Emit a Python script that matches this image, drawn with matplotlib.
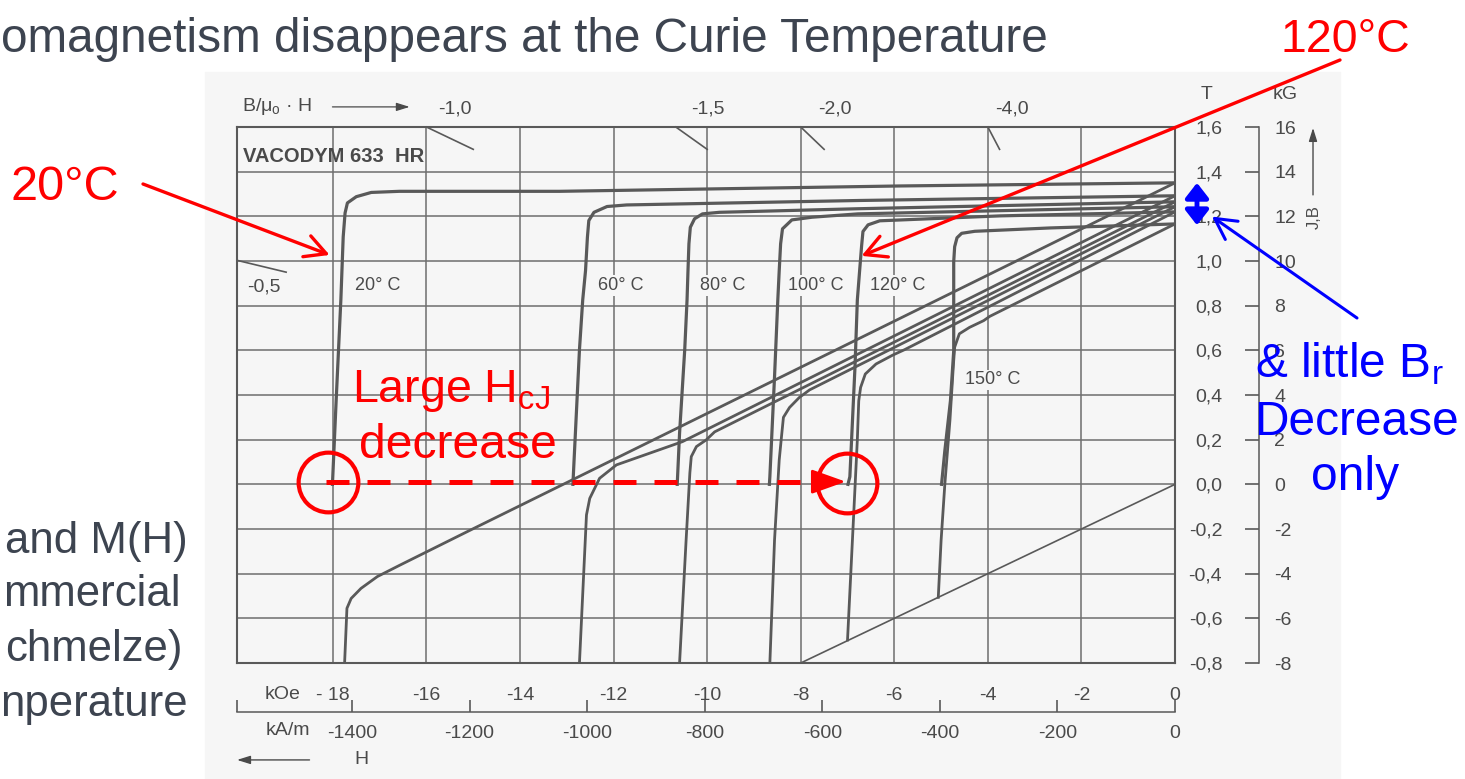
"""
VACODYM 633 HR : courbes de desaimantation J(H) et B(H) selon la temperature,
avec les annotations de la diapositive (HcJ qui chute, Br qui bouge peu).
"""
import matplotlib
matplotlib.use("Agg")
import matplotlib.pyplot as plt
from matplotlib.patches import Rectangle
from matplotlib.ticker import FixedLocator

plt.rcParams["font.family"] = ["Liberation Sans", "DejaVu Sans"]
plt.rcParams["mathtext.default"] = "regular"
plt.rcParams["axes.unicode_minus"] = False

W, HPX = 1465, 779

h_j20 = [0, -5.88, -13.16, -16.58, -17.18, -17.50, -17.69, -17.74, -17.78, -17.83, -17.93, -18.01]
j20 = [1.350, 1.336, 1.312, 1.312, 1.307, 1.288, 1.260, 1.215, 1.108, 0.826, 0.378, 0.0]
h_b20 = [0, -15.13, -16.56, -17.05, -17.40, -17.61, -17.70, -17.75]
b20 = [1.350, -0.212, -0.361, -0.413, -0.466, -0.511, -0.555, -0.800]

h_j60 = [0, -6.74, -11.72, -12.14, -12.42, -12.53, -12.56, -12.60, -12.66, -12.73, -12.87]
j60 = [1.292, 1.271, 1.251, 1.244, 1.218, 1.181, 1.106, 0.957, 0.826, 0.602, 0.0]
h_b60 = [0, -10.53, -11.94, -12.30, -12.51, -12.58, -12.73]
b60 = [1.292, 0.191, 0.087, 0.027, -0.063, -0.137, -0.800]

h_j80 = [0, -6.78, -9.74, -10.10, -10.27, -10.36, -10.39, -10.41, -10.43, -10.48, -10.59, -10.64]
j80 = [1.265, 1.234, 1.218, 1.211, 1.189, 1.151, 1.077, 0.957, 0.826, 0.602, 0.229, 0.0]
h_b80 = [0, -9.84, -10.02, -10.23, -10.34, -10.37, -10.45, -10.59]
b80 = [1.265, 0.235, 0.199, 0.169, 0.124, 0.051, -0.249, -0.800]

h_j100 = [0, -6.78, -7.76, -8.19, -8.39, -8.43, -8.46, -8.49, -8.56, -8.66, -8.67]
j100 = [1.243, 1.211, 1.196, 1.184, 1.144, 1.077, 0.957, 0.826, 0.482, 0.034, 0.0]
h_b100 = [0, -7.81, -8.03, -8.24, -8.37, -8.42, -8.46, -8.56, -8.66]
b100 = [1.243, 0.423, 0.389, 0.344, 0.300, 0.195, 0.109, -0.249, -0.800]

h_j120 = [0, -3.74, -6.31, -6.56, -6.67, -6.70, -6.74, -6.79, -6.84, -6.95, -6.99]
j120 = [1.220, 1.202, 1.180, 1.162, 1.132, 1.065, 0.960, 0.826, 0.527, 0.034, 0.0]
h_b120 = [0, -5.78, -6.03, -6.39, -6.62, -6.72, -6.76, -6.79, -6.86, -7.00]
b120 = [1.220, 0.603, 0.579, 0.539, 0.494, 0.434, 0.374, 0.200, -0.100, -0.697]

h_j150 = [0, -2.67, -4.28, -4.56, -4.66, -4.71, -4.73, -4.73, -4.80, -4.92, -4.99]
j150 = [1.166, 1.148, 1.133, 1.124, 1.104, 1.064, 0.997, 0.598, 0.374, 0.150, 0.0]
h_b150 = [0, -3.96, -4.09, -4.39, -4.61, -4.71, -4.74, -4.81, -4.92, -5.00, -5.06]
b150 = [1.166, 0.752, 0.733, 0.703, 0.674, 0.614, 0.524, 0.289, 0.0, -0.252, -0.506]

# droite J = 0 (B = mu0.H)
h_mu0 = [-8.0, 0.0]
b_mu0 = [-0.8, 0.0]

# amorces des droites de charge B/mu0.H
load_labels = ["-0,5", "-1,0", "-1,5", "-2,0", "-4,0"]
load_h = [(-20.05, -19.0), (-16.0, -15.0), (-10.67, -10.0), (-8.0, -7.5), (-4.0, -3.75)]
load_b = [(1.003, 0.95), (1.6, 1.5), (1.6, 1.5), (1.6, 1.5), (1.6, 1.5)]
load_label_pos = [(-19.47, 0.884), (-15.40, 1.681), (-9.99, 1.681), (-7.27, 1.681), (-3.49, 1.681)]

temp_labels = ["20° C", "60° C", "80° C", "100° C", "120° C", "150° C"]
temp_label_pos = [(-17.05, 0.889), (-11.85, 0.889), (-9.67, 0.889), (-7.68, 0.889), (-5.93, 0.889), (-3.89, 0.468)]

koe_ticks = [-18, -16, -14, -12, -10, -8, -6, -4, -2, 0]
koe_labels = ["- 18", "-16", "-14", "-12", "-10", "-8", "-6", "-4", "-2", "0"]
kam_ticks = [-1400, -1200, -1000, -800, -600, -400, -200, 0]
kam_labels = ["-1400", "-1200", "-1000", "-800", "-600", "-400", "-200", "0"]
t_ticks = [-0.8, -0.6, -0.4, -0.2, 0.0, 0.2, 0.4, 0.6, 0.8, 1.0, 1.2, 1.4, 1.6]
t_labels = ["-0,8", "-0,6", "-0,4", "-0,2", "0,0", "0,2", "0,4", "0,6", "0,8", "1,0", "1,2", "1,4", "1,6"]
kg_ticks = [-8, -6, -4, -2, 0, 2, 4, 6, 8, 10, 12, 14, 16]
kg_labels = ["-8", "-6", "-4", "-2", "0", "2", "4", "6", "8", "10", "12", "14", "16"]

# --- couleurs / tailles ---
INK = "#595959"
TXT = "#4a4a4a"
GRID = "#6e6e6e"
BG = "#f6f6f6"
SLIDE = "#3d4450"
RED = "#ff0000"
BLUE = "#0000ff"
FS = 14


def fxy(x, y):
    """pixel (origine en haut a gauche) -> fraction de figure"""
    return x / W, 1 - y / HPX


fig = plt.figure(figsize=(W / 100, HPX / 100), dpi=100)
fig.patches.append(Rectangle((205 / W, 0), (1340 - 205) / W, (HPX - 72) / HPX,
                             transform=fig.transFigure, color=BG, zorder=-10))

ax = fig.add_axes([237 / W, 1 - 663 / HPX, 938 / W, 536 / HPX])
ax.set_facecolor(BG)
ax.set_xlim(-20.05, 0)
ax.set_ylim(-0.8, 1.6)
for sp in ax.spines.values():
    sp.set_color(INK)
    sp.set_linewidth(1.5)

ax.set_xticks(koe_ticks)
ax.set_xticklabels(koe_labels)
ax.set_yticks(t_ticks)
ax.set_yticklabels(t_labels)
ax.yaxis.tick_right()
ax.tick_params(axis="x", length=0, pad=17, labelsize=FS, labelcolor=TXT)
ax.tick_params(axis="y", length=0, pad=34, labelsize=FS, labelcolor=TXT)
for lab in ax.get_yticklabels():
    lab.set_horizontalalignment("right")
ax.grid(True, color=GRID, linewidth=1.1)
ax.set_axisbelow(True)

# courbes
for h, v in [(h_j20, j20), (h_j60, j60), (h_j80, j80), (h_j100, j100), (h_j120, j120), (h_j150, j150)]:
    ax.plot(h, v, color=INK, linewidth=2.3, solid_joinstyle="round", zorder=3)
for h, v in [(h_b20, b20), (h_b60, b60), (h_b80, b80), (h_b100, b100), (h_b120, b120), (h_b150, b150)]:
    ax.plot(h, v, color=INK, linewidth=2.0, solid_joinstyle="round", zorder=3)
ax.plot(h_mu0, b_mu0, color=INK, linewidth=1.2, zorder=3)

for (h1, h2), (b1, b2) in zip(load_h, load_b):
    ax.plot([h1, h2], [b1, b2], color=INK, linewidth=1.2, clip_on=False)
for lab, (h, b) in zip(load_labels, load_label_pos):
    ax.text(h, b, lab, fontsize=FS, color=TXT, ha="center", va="center")

for lab, (h, b) in zip(temp_labels, temp_label_pos):
    ax.text(h, b, lab, fontsize=13, color=TXT, ha="center", va="center", zorder=4,
            bbox=dict(boxstyle="square,pad=0.1", fc=BG, ec="none"))

ax.text(-19.93, 1.468, "VACODYM 633  HR", fontsize=14.5, color=TXT, ha="left", va="center",
        fontweight="bold")
ax.text(-19.95, 1.69, "B/μ$_{o}$ · H", fontsize=FS, color=TXT, ha="left", va="center")
ax.annotate("", xy=(-16.36, 1.69), xytext=(-18.01, 1.69), annotation_clip=False,
            arrowprops=dict(arrowstyle="-|>,head_length=0.8,head_width=0.25", color=TXT, lw=0.9,
                            shrinkA=0, shrinkB=0))

# axe en kA/m sous le cadre
kam = ax.secondary_xaxis(-(712 - 663) / 536, functions=(lambda h: h * 79.577, lambda a: a / 79.577))
kam.set_xticks(kam_ticks)
kam.set_xticklabels(kam_labels)
kam.xaxis.set_minor_locator(FixedLocator([-20.05 * 79.577]))
kam.tick_params(which="both", direction="in", length=9, width=1.2, color=INK, pad=9,
                labelsize=FS, labelcolor=TXT)
kam.spines["bottom"].set_color(INK)
kam.spines["bottom"].set_linewidth(1.1)
ax.text(-19.08, -0.94, "kOe", fontsize=FS, color=TXT, ha="center", va="center")
ax.text(-18.97, -1.104, "kA/m", fontsize=FS, color=TXT, ha="center", va="center")
ax.text(-17.39, -1.234, "H", fontsize=FS, color=TXT, ha="center", va="center")
ax.annotate("", xy=(-20.05, -1.234), xytext=(-18.5, -1.234), annotation_clip=False,
            arrowprops=dict(arrowstyle="-|>,head_length=0.8,head_width=0.25", color=TXT, lw=1.0,
                            shrinkA=0, shrinkB=0))

# axe en kG a droite
kg = ax.secondary_yaxis((1259 - 237) / 938, functions=(lambda t: t * 10, lambda g: g / 10))
kg.set_yticks(kg_ticks)
kg.set_yticklabels(kg_labels)
kg.tick_params(direction="in", length=10, width=1.2, color=INK, pad=11, labelsize=FS, labelcolor=TXT)
kg.spines["right"].set_color(INK)
kg.spines["right"].set_linewidth(1.1)
ax.text(0.68, 1.744, "T", fontsize=FS, color=TXT, ha="center", va="center")
ax.text(2.35, 1.744, "kG", fontsize=FS, color=TXT, ha="center", va="center")
ax.annotate("", xy=(2.95, 1.596), xytext=(2.95, 1.296), annotation_clip=False,
            arrowprops=dict(arrowstyle="-|>,head_length=0.8,head_width=0.25", color=TXT, lw=1.0,
                            shrinkA=0, shrinkB=0))
ax.text(2.97, 1.198, "J,B", fontsize=12, color=TXT, ha="center", va="center", rotation=90)

# --- annotations de la diapositive ---
fig.text(*fxy(1048, 52), "omagnetism disappears at the Curie Temperature", fontsize=34.4,
         color=SLIDE, ha="right", va="baseline")
for txt, x, y in [("and M(H)", 188, 553), ("mmercial", 181, 606),
                  ("chmelze)", 183, 661), ("nperature", 188, 716)]:
    fig.text(*fxy(x, y), txt, fontsize=31.5, color=SLIDE, ha="right", va="baseline")

fig.text(*fxy(65, 200), "20°C", fontsize=35, color=RED, ha="center", va="baseline")
fig.text(*fxy(1345, 52), "120°C", fontsize=33.5, color=RED, ha="center", va="baseline")
fig.text(*fxy(352, 402), "Large H$_{cJ}$", fontsize=33.5, color=RED, ha="left", va="baseline")
fig.text(*fxy(458, 458), "decrease", fontsize=34.7, color=RED, ha="center", va="baseline")

red_arrow = dict(arrowstyle="->,head_length=0.75,head_width=0.4", color=RED, lw=2.4,
                 mutation_scale=20, shrinkA=0, shrinkB=0)
ax.annotate("", xy=(-18.07, 1.027), xytext=(143, HPX - 184), textcoords="figure pixels",
            arrowprops=red_arrow, annotation_clip=False)
ax.annotate("", xy=(-6.70, 1.023), xytext=(1340, HPX - 60), textcoords="figure pixels",
            arrowprops=red_arrow, annotation_clip=False)

# HcJ : de 20 a 120 degres
ax.plot([-18.15, -7.72], [0.012, 0.012], color=RED, lw=3.6, dashes=(4.6, 3.6),
        dash_capstyle="butt", clip_on=False, zorder=6)
ax.annotate("", xy=(-7.04, 0.012), xytext=(-7.72, 0.012), annotation_clip=False,
            arrowprops=dict(arrowstyle="-|>,head_length=1.4,head_width=0.5", color=RED, lw=2,
                            mutation_scale=15, shrinkA=0, shrinkB=0), zorder=6)
ax.plot([-18.11, -7.02], [0.012, 0.004], linestyle="none", marker="o", markersize=43,
        markerfacecolor="none", markeredgecolor=RED, markeredgewidth=3, clip_on=False, zorder=6)

# Br : faible variation
ax.annotate("", xy=(0.47, 1.16), xytext=(0.47, 1.35), annotation_clip=False,
            arrowprops=dict(arrowstyle="<|-|>,head_length=0.45,head_width=0.35", color=BLUE, lw=3.5,
                            mutation_scale=20, shrinkA=0, shrinkB=0))
ax.annotate("", xy=(0.79, 1.199), xytext=(1357, HPX - 318), textcoords="figure pixels",
            annotation_clip=False,
            arrowprops=dict(arrowstyle="->,head_length=0.75,head_width=0.4", color=BLUE, lw=2.2,
                            mutation_scale=20, shrinkA=0, shrinkB=0))
fig.text(*fxy(1349, 377), "& little B$_r$", fontsize=34.5, color=BLUE, ha="center", va="baseline")
fig.text(*fxy(1356, 435), "Decrease", fontsize=34.5, color=BLUE, ha="center", va="baseline")
fig.text(*fxy(1355, 490), "only", fontsize=34.5, color=BLUE, ha="center", va="baseline")

fig.savefig("out.png", dpi=100)
